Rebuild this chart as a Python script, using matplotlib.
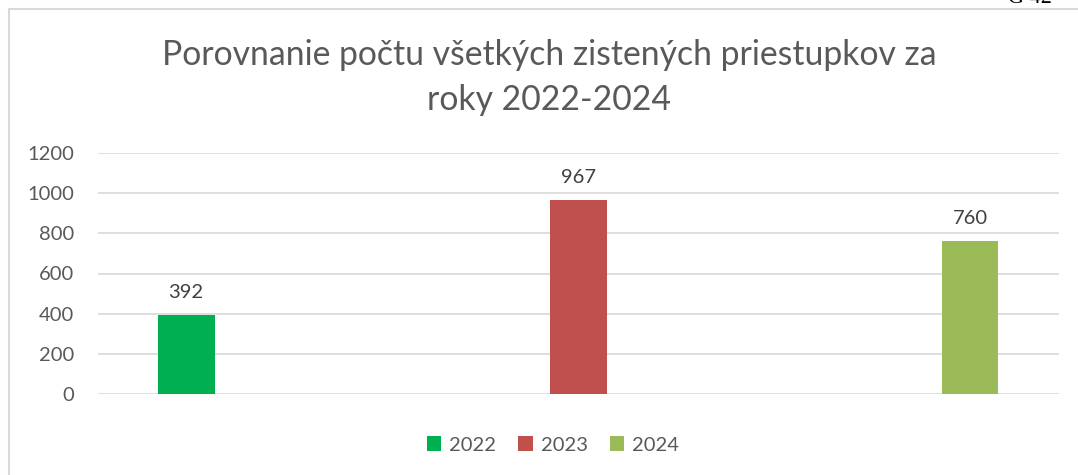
import matplotlib.pyplot as plt
from matplotlib.patches import Rectangle

years = ["2022", "2023", "2024"]
counts = [392, 967, 760]
colors = ["#00B050", "#C0504D", "#9BBB59"]
yticks = [0, 200, 400, 600, 800, 1000, 1200]

txt = "#595959"
plt.rcParams['font.family'] = ['Lato', 'DejaVu Sans']

W, H = 1078, 475
fig = plt.figure(figsize=(W/100, H/100), dpi=100)

# chart frame (light gray border, cut by image edges)
fig.patches.append(Rectangle((9/W, -0.05), 1.2, 1 - 9/H + 0.05, transform=fig.transFigure,
                             fill=False, edgecolor="#D9D9D9", linewidth=1.5))
fig.text(1030/W, 1 + 1/H, "G 42", family="Liberation Serif", fontsize=16,
         ha="center", va="center", color="black")

ax = fig.add_axes([98/W, 1 - 394/H, (1059 - 98)/W, (394 - 153)/H])
ax.set_ylim(0, 1200)
x = list(range(len(years)))
ax.set_xlim(-88/392, 2 + 89/392)
for i in x:
    ax.bar(i, counts[i], width=57/392, color=colors[i], label=years[i], zorder=3)
    ax.text(i, counts[i] + 85, str(counts[i]), ha="center", va="baseline",
            fontsize=14.5, color="#404040")

ax.set_yticks(yticks)
ax.set_yticklabels([str(v) for v in yticks], fontsize=14.5, color=txt)
ax.tick_params(axis="y", length=0, pad=17)
ax.set_xticks([])
ax.grid(axis="y", color="#D9D9D9", linewidth=1.2, zorder=0)
for s in ax.spines.values():
    s.set_visible(False)

fig.text(549/W, 1 - 55/H, "Porovnanie počtu všetkých zistených priestupkov za",
         ha="center", va="center", fontsize=24.3, color=txt)
fig.text(549/W, 1 - 100/H, "roky 2022-2024",
         ha="center", va="center", fontsize=24.3, color=txt)

fig.legend(loc="center", bbox_to_anchor=(553/W, 1 - 445/H), ncol=3, frameon=False,
           fontsize=14.5, labelcolor=txt, handlelength=0.7, handleheight=0.7,
           handletextpad=0.4, columnspacing=1.1)

fig.savefig("out.png", dpi=100)
